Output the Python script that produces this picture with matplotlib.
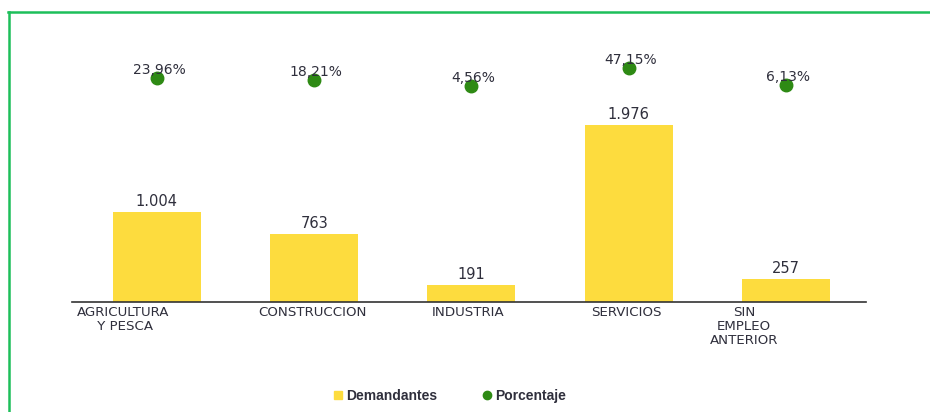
import matplotlib
matplotlib.use("Agg")
import matplotlib.pyplot as plt
from matplotlib.lines import Line2D
from matplotlib.transforms import offset_copy

categories = ["AGRICULTURA\n Y PESCA", "CONSTRUCCION", "INDUSTRIA", "SERVICIOS", "SIN\nEMPLEO\nANTERIOR"]
demandantes = [1004, 763, 191, 1976, 257]
demandantes_labels = ["1.004", "763", "191", "1.976", "257"]
porcentaje = [23.96, 18.21, 4.56, 47.15, 6.13]
porcentaje_labels = ["23,96%", "18,21%", "4,56%", "47,15%", "6,13%"]

# layout (pixel offsets of category labels from bar centres)
label_dx = [-34, -2, -3, -2, -42]

BAR_COLOR = "#FDDC3E"
DOT_COLOR = "#2E8A14"
TEXT_COLOR = "#2F2F3C"
BORDER_COLOR = "#1DBF5A"

W, H = 930, 412
fig = plt.figure(figsize=(W / 100, H / 100), dpi=100)
ax = fig.add_axes([72 / W, 110 / H, (866 - 72) / W, 252 / H])

x = list(range(len(categories)))
ax.bar(x, demandantes, width=0.56, color=BAR_COLOR, zorder=2)
ax.set_xlim(-0.54, 4.51)
ax.set_ylim(0, 2812)

for xi, v, lab in zip(x, demandantes, demandantes_labels):
    ax.annotate(lab, (xi, v), xytext=(0, 2), textcoords="offset points",
                ha="center", va="bottom", fontsize=10.5, color=TEXT_COLOR)

for xi, lab, dx in zip(x, categories, label_dx):
    tr = offset_copy(ax.get_xaxis_transform(), fig=fig, x=dx, y=-4, units="dots")
    ax.text(xi, 0, lab, transform=tr, ha="center", va="top", fontsize=9.6,
            color=TEXT_COLOR, linespacing=1.1, multialignment="center")

for side in ["left", "right", "top"]:
    ax.spines[side].set_visible(False)
ax.spines["bottom"].set_color("#333333")
ax.spines["bottom"].set_linewidth(1.2)
ax.set_xticks([])
ax.set_yticks([])

ax2 = ax.twinx()
ax2.set_ylim(-506, 90)
ax2.plot(x, porcentaje, "o", color=DOT_COLOR, markersize=9, linestyle="none", zorder=3)
for xi, v, lab in zip(x, porcentaje, porcentaje_labels):
    ax2.annotate(lab, (xi, v), xytext=(1.5, 6), textcoords="offset points",
                 ha="center", va="center", fontsize=10, color=TEXT_COLOR)
ax2.set_yticks([])
for side in ["left", "right", "top", "bottom"]:
    ax2.spines[side].set_visible(False)
ax2.set_xlim(-0.54, 4.51)

handles = [
    Line2D([], [], marker="s", color=BAR_COLOR, markersize=6, linestyle="none"),
    Line2D([], [], marker="o", color=DOT_COLOR, markersize=6, linestyle="none"),
]
leg = fig.legend(handles, ["Demandantes", "Porcentaje"], loc="center",
                 bbox_to_anchor=(450 / W, 1 - 396 / H), ncol=2, frameon=False,
                 handlelength=0.6, handletextpad=0.3, columnspacing=3.3,
                 prop={"family": "Liberation Sans", "weight": "bold", "size": 10})
for t in leg.get_texts():
    t.set_color(TEXT_COLOR)

# partial green frame (top and left)
fig.add_artist(Line2D([8 / W, 1.0], [1 - 12 / H, 1 - 12 / H], transform=fig.transFigure,
                      color=BORDER_COLOR, linewidth=1.8))
fig.add_artist(Line2D([8.5 / W, 8.5 / W], [0, 1 - 12 / H], transform=fig.transFigure,
                      color=BORDER_COLOR, linewidth=1.8))

fig.savefig("out.png", dpi=100)
